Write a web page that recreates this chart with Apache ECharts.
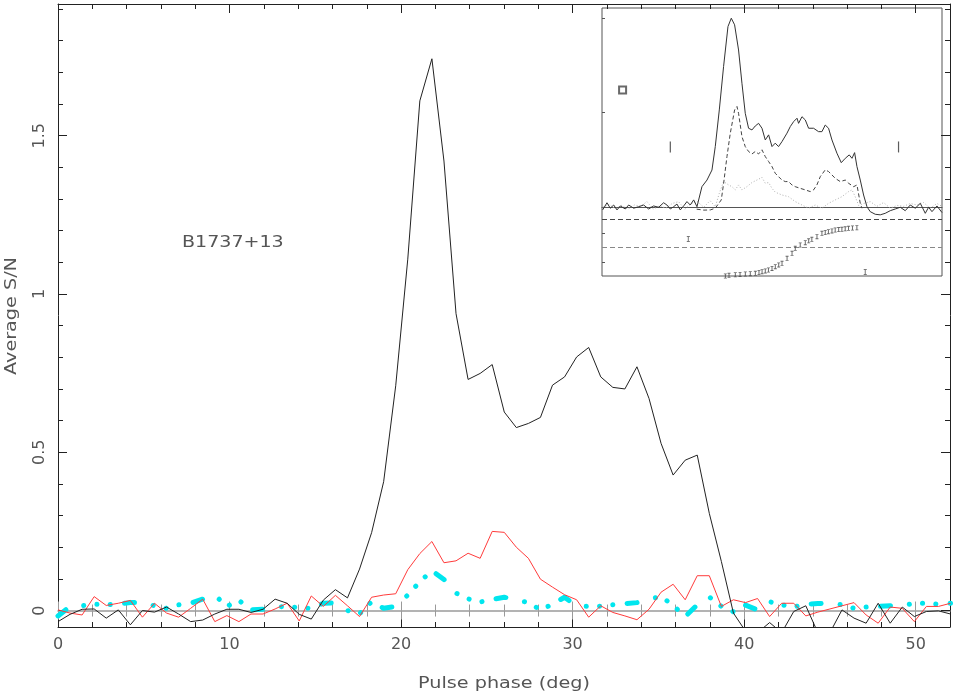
<!DOCTYPE html>
<html><head><meta charset="utf-8">
<script src="https://cdn.jsdelivr.net/npm/echarts@6/dist/echarts.min.js"></script>
<style>html,body{margin:0;padding:0;background:#fff}#c{width:954px;height:695px}</style>
</head><body><div id="c"></div>
<script>
// ---------- main profile data (one value per phase bin) ----------
const binWidth = 0.703125; // degrees per bin
const intensity = [
 -0.035, -0.012, 0.004, 0.005, -0.024, 0.002, -0.045, 0.0, -0.005, 0.011,
 -0.011, -0.035, -0.030, -0.011, 0.004, 0.004, -0.006, 0.004, 0.036, 0.023,
 -0.012, -0.027, 0.033, 0.066, 0.040, 0.131, 0.246, 0.407, 0.71, 1.11,
 1.61, 1.743, 1.42, 0.938, 0.730, 0.749, 0.777, 0.627, 0.578, 0.591,
 0.610, 0.712, 0.738, 0.801, 0.831, 0.738, 0.705, 0.700, 0.770, 0.670,
 0.528, 0.428, 0.475, 0.491, 0.307, 0.155, -0.008, -0.065, -0.07, -0.038,
 -0.07, -0.003, 0.015, -0.07, -0.07, 0.002, -0.024, -0.040, 0.023, -0.040,
 0.011, -0.019, -0.003, -0.001, -0.011];
const linearPol = [
 0.002, -0.008, -0.014, 0.044, 0.016, 0.023, 0.032, -0.021, 0.023, -0.008,
 -0.021, 0.007, 0.036, -0.035, -0.016, -0.035, -0.011, -0.011, 0.005, 0.023,
 -0.033, 0.046, 0.013, 0.048, 0.015, -0.019, 0.042, 0.049, 0.053, 0.129,
 0.18, 0.218, 0.151, 0.157, 0.181, 0.165, 0.25, 0.247, 0.20, 0.165,
 0.099, 0.074, 0.050, 0.034, -0.021, 0.015, -0.006, -0.017, -0.029, 0.004,
 0.058, 0.083, 0.034, 0.110, 0.110, 0.013, 0.034, 0.025, 0.038, -0.019,
 0.023, 0.023, -0.017, -0.005, 0.005, 0.015, 0.025, -0.014, -0.040, 0.011,
 0.007, -0.035, 0.013, 0.013, 0.023];
const circularPol = [
 -0.017, 0.013, 0.015, 0.02, 0.018, 0.021, 0.025, 0.025, 0.015, 0.007,
 0.018, 0.023, 0.036, 0.049, 0.013, 0.032, 0.002, 0.004, 0.011, 0.013,
 0.009, 0.007, 0.023, 0.024, 0.0, -0.01, 0.028, 0.007, 0.013, 0.049,
 0.091, 0.126, 0.098, 0.055, 0.037, 0.027, 0.035, 0.042, 0.034, 0.025,
 0.002, 0.02, 0.042, 0.014, 0.013, 0.014, 0.018, 0.022, 0.025, 0.035,
 0.045, 0.016, -0.019, 0.018, 0.043, 0.013, -0.004, 0.017, 0.002, 0.028,
 0.018, 0.011, 0.02, 0.022, 0.023, 0.018, 0.007, 0.011, 0.013, 0.015,
 0.015, 0.023, 0.023, 0.02, 0.023];

// ---------- tick values ----------
const xTickValues = [0, 10, 20, 30, 40, 50];
const xMinorValues = [2,4,6,8,12,14,16,18,22,24,26,28,32,34,36,38,42,44,46,48];
const yTickValues = [0, 0.5, 1, 1.5];
const yMinorValues = [0.1,0.2,0.3,0.4,0.6,0.7,0.8,0.9,1.1,1.2,1.3,1.4,1.6,1.7,1.8,1.9];

// ---------- inset data ----------
const insetIPhase = [5.58,6.13,6.55,6.98,7.4,7.82,8.45,8.88,9.51,10.14,10.78,11.41,12.04,12.68,13.31,13.73,14.16,14.58,15.0,15.42,15.85,16.27,16.69,17.12,17.54,
 18.17,18.81,19.44,19.86,20.37,20.91,21.47,21.89,22.31,22.81,23.24,23.66,24.08,24.51,24.93,25.35,25.78,26.2,26.62,27.05,27.46,27.88,28.31,28.95,29.37,29.79,30.22,30.42,30.85,31.27,31.69,32.32,32.95,33.38,33.8,34.22,34.65,35.28,35.83,36.34,36.84,37.19,37.52,37.82,38.24,38.66,39.09,39.5,40.14,40.77,41.4,42.04,
 42.68,43.31,43.94,44.58,45.21,45.85,46.48,46.9,47.33,47.96,48.6];
const insetI = [-0.014,0.024,-0.005,0.012,-0.014,0.007,-0.009,0.012,-0.005,0.003,0.012,-0.009,0.007,0.0,0.024,0.012,-0.009,0.003,0.017,-0.014,0.007,0.030,0.012,0.039,0.003,
 0.109,0.144,0.197,0.321,0.515,0.744,0.956,1.0,0.965,0.832,0.656,0.497,0.418,0.409,0.430,0.444,0.418,0.356,0.383,0.321,0.339,0.321,0.347,0.392,0.427,0.453,0.471,0.444,0.479,0.462,0.418,0.418,0.400,0.400,0.435,0.418,0.356,0.286,0.236,0.259,0.277,0.259,0.289,0.215,0.144,0.065,0.003,-0.023,-0.037,-0.04,-0.032,-0.018,
 -0.009,0.0,-0.018,0.012,-0.005,0.021,-0.032,0.0,-0.023,0.007,-0.028];
const insetLPhase = [17.5,18.4,19.23,19.86,20.62,20.92,21.34,21.76,22.31,22.61,22.81,23.24,23.66,24.08,24.51,24.93,25.35,25.78,26.2,26.62,27.05,27.46,27.88,28.31,28.73,29.15,29.58,30.0,30.64,31.27,31.9,32.32,32.74,33.17,33.8,34.22,34.65,35.07,35.7,36.34,36.76,37.4,37.82,38.24,38.45];
const insetL = [-0.01,-0.015,-0.014,-0.005,0.039,0.127,0.268,0.391,0.515,0.533,0.497,0.374,0.321,0.295,0.282,0.295,0.282,0.304,0.268,0.242,0.215,0.180,0.162,0.144,0.136,0.136,0.118,0.109,0.100,0.092,0.083,0.092,0.118,0.162,0.198,0.189,0.171,0.153,0.136,0.144,0.127,0.109,0.118,0.021,-0.005];
const insetVPhase = [5.6,6.4,7.2,8.0,8.8,9.6,10.4,11.2,12.0,12.8,13.6,14.4,15.2,16.0,16.8,17.6,18.4,19.2,19.86,20.37,20.92,21.55,21.97,22.39,22.81,23.24,23.87,24.51,25.14,25.78,26.2,26.62,27.05,27.46,28.31,29.15,30.0,30.85,31.69,32.53,33.38,34.22,35.07,35.91,36.76,37.19,37.6,38.03,38.66,39.5,40.35,41.2,42.04,42.9,43.73,44.58,45.42,46.27,47.1,47.96,48.6];
const insetV = [0.0,0.015,-0.008,0.01,-0.01,0.012,0.005,0.03,-0.01,0.008,-0.005,0.02,0.03,-0.01,0.02,0.03,0.0,0.035,0.003,0.074,0.136,0.118,0.109,0.092,0.118,0.092,0.109,0.131,0.144,0.158,0.127,0.131,0.1,0.08,0.065,0.056,0.030,0.012,-0.005,0.012,-0.005,0.021,0.039,0.056,0.083,0.092,0.056,0.01,0.02,0.03,0.005,0.025,-0.005,0.01,0.005,0.02,0.012,0.025,-0.005,0.02,0.005];
const paPhase = [21.14,21.6,22.4,23.0,23.67,24.3,24.94,25.4,25.79,26.2,26.6,27.05,27.47,27.9,28.32,28.96,29.59,30.0,30.63,31.27,31.7,32.1,32.75,33.38,33.8,34.2,34.65,35.06,35.5,35.91,36.33,36.75,37.25,37.81];
const paValue = [-90,-88,-86,-85,-83.7,-82.5,-81.5,-79,-76.4,-74,-71,-66,-60.6,-55,-49.9,-34.1,-18.3,-2.5,7.9,15.2,21,25.9,34.1,44.8,47.5,49.9,52.5,55.3,56.5,57.5,59,60.6,61.5,62.5];
const insetTickValues = [0.5, 1];
const paTickValues = [-45, 45];
const paGuideValues = [90, 0];
const barPhase = [14.16, 43.09], barLevel = [0.319, 0.319];
const squarePhase = [8.11], squareLevel = [0.62];
const errPhase = [16.44, 38.87], errPA = [26.8, -77.4];

// ---------- styling ----------
const AX = '#222', TXT = '#555', FONT = 'DejaVu Sans', ZERO = '#9a9a9a';
const X_MIN = 0, X_MAX = 52, Y_MIN = -0.052, Y_MAX = 1.916;
const IX_MIN = 5.5, IX_MAX = 48.6;
const IBEAM = 'path://M0,0h3v1h-1v4h1v1h-3v-1h1v-4h-1z';

function tickAxis(kind, opts) {
  const base = {
    type: 'value', gridIndex: 0, splitLine: {show: false},
    axisLine: {show: false, onZero: false},
    axisTick: {show: false}, axisLabel: {show: false}
  };
  if (kind === 'x') { base.min = X_MIN; base.max = X_MAX; }
  else { base.min = Y_MIN; base.max = Y_MAX; }
  return Object.assign(base, opts);
}
const tick = (vals, len, inside, color) => ({show: true, inside: inside, length: len, customValues: vals, lineStyle: {color: color || AX, width: 1}});
const pts = (xs, ys) => xs.map((x, i) => [x, ys[i]]);
const bins = vals => vals.map((v, i) => [i * binWidth, v]);

const option = {
  animation: false,
  backgroundColor: '#fff',
  grid: [
    {left: 58, top: 4, width: 892, height: 623, show: false},
    {left: 602, top: 8, width: 340, height: 211, show: false},
    {left: 602, top: 219, width: 340, height: 57, show: false},
    {left: 602, top: 8, width: 340, height: 268, show: true, borderColor: '#555', borderWidth: 1, backgroundColor: '#fff'}
  ],
  xAxis: [
    tickAxis('x', {position: 'bottom', axisLine: {show: true, onZero: false, lineStyle: {color: AX}},
      axisTick: tick(xTickValues, 9, true),
      axisLabel: {show: true, customValues: xTickValues, margin: 10, fontSize: 16, fontFamily: FONT, color: TXT}}),
    tickAxis('x', {position: 'bottom', axisTick: tick(xMinorValues, 5, true)}),
    tickAxis('x', {position: 'top', axisLine: {show: true, onZero: false, lineStyle: {color: AX}}, axisTick: tick(xTickValues, 9, true)}),
    tickAxis('x', {position: 'top', axisTick: tick(xMinorValues, 5, true)}),
    tickAxis('x', {position: 'bottom', axisLine: {show: true, onZero: true, onZeroAxisIndex: 0, lineStyle: {color: ZERO, width: 1.5}}, axisTick: tick(xTickValues, 9, true, ZERO)}),
    tickAxis('x', {position: 'bottom', axisLine: {show: false, onZero: true, onZeroAxisIndex: 0}, axisTick: tick(xTickValues, 9, false, ZERO)}),
    tickAxis('x', {position: 'bottom', axisLine: {show: false, onZero: true, onZeroAxisIndex: 0}, axisTick: tick(xMinorValues, 6, true, ZERO)}),
    tickAxis('x', {position: 'bottom', axisLine: {show: false, onZero: true, onZeroAxisIndex: 0}, axisTick: tick(xMinorValues, 6, false, ZERO)}),
    {type: 'value', gridIndex: 1, min: IX_MIN, max: IX_MAX, position: 'bottom', splitLine: {show: false},
      axisLine: {show: true, onZero: true, onZeroAxisIndex: 4, lineStyle: {color: '#555', width: 1}}, axisTick: {show: false}, axisLabel: {show: false}},
    {type: 'value', gridIndex: 2, min: IX_MIN, max: IX_MAX, show: false},
    {type: 'value', gridIndex: 3, min: 0, max: 1, show: false}
  ],
  yAxis: [
    tickAxis('y', {position: 'left', axisLine: {show: true, onZero: false, lineStyle: {color: AX}},
      axisTick: tick(yTickValues, 9, true),
      axisLabel: {show: true, customValues: yTickValues, rotate: 90, margin: 10, fontSize: 16, fontFamily: FONT, color: TXT}}),
    tickAxis('y', {position: 'left', axisTick: tick(yMinorValues, 5, true)}),
    tickAxis('y', {position: 'right', axisLine: {show: true, onZero: false, lineStyle: {color: AX}}, axisTick: tick(yTickValues, 9, true)}),
    tickAxis('y', {position: 'right', axisTick: tick(yMinorValues, 5, true)}),
    {type: 'value', gridIndex: 1, min: -0.062, max: 1.054, position: 'left', splitLine: {show: false},
      axisLine: {show: false, onZero: false}, axisTick: {show: true, inside: true, length: 3, customValues: insetTickValues, lineStyle: {color: '#555'}}, axisLabel: {show: false}},
    {type: 'value', gridIndex: 2, min: -90, max: 90, position: 'left', splitLine: {show: false},
      axisLine: {show: false, onZero: false}, axisTick: {show: true, inside: true, length: 3, customValues: paTickValues, lineStyle: {color: '#555'}}, axisLabel: {show: false}},
    {type: 'value', gridIndex: 3, min: 0, max: 1, show: false}
  ],
  series: [
    {type: 'line', xAxisIndex: 0, yAxisIndex: 0, data: bins(circularPol), symbol: 'none', clip: true, z: 2,
      lineStyle: {color: '#00e6ee', width: 5, cap: 'round', join: 'round', type: [10, 19, 0.1, 13.2, 0.1, 13.2, 0.1, 14.3]}},
    {type: 'line', xAxisIndex: 0, yAxisIndex: 0, data: bins(linearPol), symbol: 'none', clip: true, z: 3,
      lineStyle: {color: '#ff3b3b', width: 1}},
    {type: 'line', xAxisIndex: 0, yAxisIndex: 0, data: bins(intensity), symbol: 'none', clip: true, z: 4,
      lineStyle: {color: '#222', width: 1}},
    // inset
    {type: 'line', xAxisIndex: 8, yAxisIndex: 4, data: pts(insetVPhase, insetV), symbol: 'none', z: 3,
      lineStyle: {color: '#b0b0b0', width: 1, type: [1, 2]}},
    {type: 'line', xAxisIndex: 8, yAxisIndex: 4, data: pts(insetLPhase, insetL), symbol: 'none', z: 4,
      lineStyle: {color: '#444', width: 1, type: [4, 2.5]}},
    {type: 'line', xAxisIndex: 8, yAxisIndex: 4, data: pts(insetIPhase, insetI), symbol: 'none', z: 5,
      lineStyle: {color: '#333', width: 1}},
    {type: 'scatter', xAxisIndex: 8, yAxisIndex: 4, data: pts(barPhase, barLevel), symbol: 'rect', symbolSize: [1.2, 11], itemStyle: {color: '#333'}, z: 5},
    {type: 'scatter', xAxisIndex: 8, yAxisIndex: 4, data: pts(squarePhase, squareLevel), symbol: 'emptyRect', symbolSize: 7, itemStyle: {color: '#444', borderWidth: 1}, z: 5},
    {type: 'scatter', xAxisIndex: 9, yAxisIndex: 5, data: pts(paPhase, paValue), symbol: IBEAM, symbolSize: [3, 5], itemStyle: {color: '#444'}, z: 5,
      markLine: {silent: true, symbol: 'none', label: {show: false},
        data: [{yAxis: paGuideValues[0], lineStyle: {color: '#444', type: [5, 3], width: 1}},
               {yAxis: paGuideValues[1], lineStyle: {color: '#888', type: [5, 3], width: 1}}]}},
    {type: 'scatter', xAxisIndex: 9, yAxisIndex: 5, data: pts(errPhase, errPA), symbol: IBEAM, symbolSize: [3, 6], itemStyle: {color: '#555'}, z: 5}
  ],
  graphic: [
    {type: 'text', x: 182, y: 242.5, scaleX: 1.19, style: {text: 'B1737+13', fontSize: 16, fontFamily: FONT, fill: TXT, align: 'left', verticalAlign: 'middle'}},
    {type: 'text', x: 504, y: 684, scaleX: 1.2, style: {text: 'Pulse phase (deg)', fontSize: 16, fontFamily: FONT, fill: TXT, align: 'center', verticalAlign: 'middle'}},
    {type: 'text', x: 12, y: 316, rotation: Math.PI / 2, scaleX: 1.2, style: {text: 'Average S/N', fontSize: 16, fontFamily: FONT, fill: TXT, align: 'center', verticalAlign: 'middle'}}
  ]
};
const chart = echarts.init(document.getElementById('c'), null, {renderer: 'canvas'});
chart.setOption(option);
</script>
</body></html>
